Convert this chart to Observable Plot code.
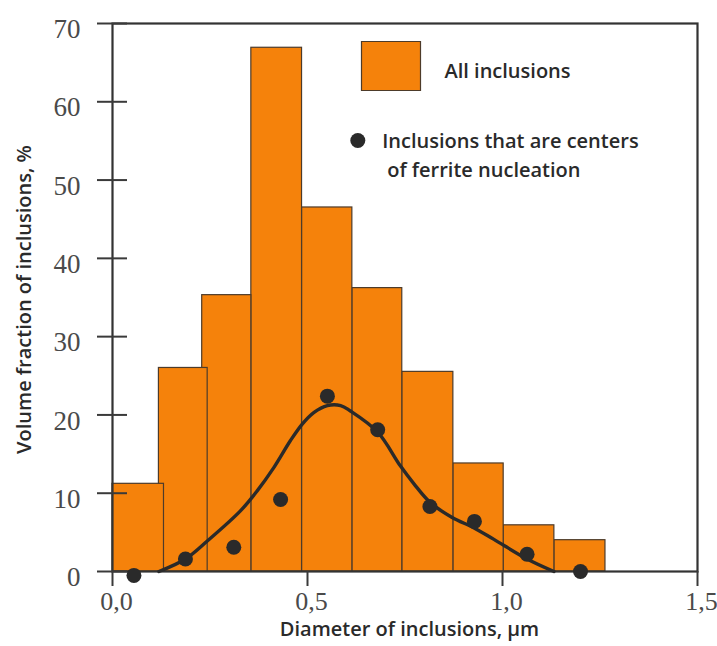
<!DOCTYPE html>
<html>
<head>
<meta charset="utf-8">
<script src="https://cdn.jsdelivr.net/npm/d3@7"></script>
<script src="https://cdn.jsdelivr.net/npm/@observablehq/plot@0.6"></script>
<style>
  body { margin: 0; background: white; }
  #chart { width: 717px; height: 646px; }
</style>
</head>
<body>
<div id="chart"></div>
<script>
// Histogram: all inclusions (bin edges in µm, volume fraction %)
const binStart = [0, 0.119, 0.230, 0.356, 0.486, 0.615, 0.743, 0.874, 1.003, 1.133];
const binEnd   = [0.132, 0.244, 0.356, 0.486, 0.615, 0.743, 0.874, 1.003, 1.133, 1.264];
const allInclusions = [11.2, 26.0, 35.3, 66.9, 46.5, 36.2, 25.5, 13.8, 5.9, 4.0];

// Points: inclusions that are centers of ferrite nucleation
const dotX = [0.055, 0.187, 0.311, 0.431, 0.551, 0.680, 0.814, 0.928, 1.063, 1.200];
const dotY = [-0.5, 1.6, 3.1, 9.2, 22.4, 18.1, 8.3, 6.4, 2.2, 0.0];

// Fitted curve
const curveX = [0.119, 0.187, 0.243, 0.328, 0.371, 0.414, 0.456, 0.486, 0.516, 0.551, 0.585, 0.610, 0.680, 0.738, 0.773, 0.815, 0.871, 0.926, 0.978, 1.063, 1.132];
const curveY = [0, 1.6, 3.9, 7.75, 10.3, 13.3, 16.7, 18.8, 20.3, 21.2, 21.2, 20.5, 17.8, 13.5, 11.2, 8.8, 6.9, 5.6, 4.1, 1.6, 0];

// Axis ticks
const xTicks = [0, 0.5, 1.0, 1.5];
const yTicks = [0, 10, 20, 30, 40, 50, 60, 70];

// Texts
const xTitle = "Diameter of inclusions, µm";
const yTitle = "Volume fraction of inclusions, %";
const legendBars = "All inclusions";
const legendDots1 = "Inclusions that are centers";
const legendDots2 = "of ferrite nucleation";

const orange = "#f5820b";
const dark = "#2a2a2a";
const sans = "'Open Sans', sans-serif";
const serif = "'Liberation Serif', serif";

const bars = binStart.map((s, i) => ({x1: s, x2: binEnd[i], y: allInclusions[i]})).reverse();
const dots = dotX.map((x, i) => ({x, y: dotY[i]}));
const curve = curveX.map((x, i) => ({x, y: curveY[i]}));

const rectSymbol = {
  draw(ctx) {
    ctx.moveTo(-29.5, -24.5);
    ctx.lineTo(29.5, -24.5);
    ctx.lineTo(29.5, 24.5);
    ctx.lineTo(-29.5, 24.5);
    ctx.closePath();
  }
};

const fmt = d => d.toFixed(1).replace(".", ",");
const titleFont = {fontSize: 20, fontWeight: 600, fontFamily: sans, fill: dark};

const chart = Plot.plot({
  width: 717,
  height: 646,
  marginLeft: 112,
  marginRight: 20,
  marginTop: 23,
  marginBottom: 75,
  style: {background: "white", overflow: "visible"},
  x: {domain: [0, 1.5], label: null},
  y: {domain: [0, 70], label: null},
  marks: [
    Plot.rect(bars, {x1: "x1", x2: "x2", y1: 0, y2: "y", fill: orange, stroke: "#4d3b2a", strokeWidth: 1.2}),
    Plot.frame({stroke: "#333", strokeWidth: 2.2}),
    Plot.line(curve, {x: "x", y: "y", curve: "catmull-rom", stroke: dark, strokeWidth: 3.4}),
    Plot.dot(dots, {x: "x", y: "y", r: 7.5, fill: dark}),
    // axes
    Plot.axisY(yTicks, {tickSize: 30, dx: 15, tickFormat: () => "", stroke: "#3a3a3a", strokeWidth: 2, label: null}),
    Plot.axisY(yTicks, {tickSize: 0, tickPadding: 32, dy: 6, fontSize: 27, fontFamily: serif, fill: "#4a4a4a", label: null}),
    Plot.axisX(xTicks, {tickSize: 15, tickFormat: () => "", stroke: "#3a3a3a", strokeWidth: 2, label: null}),
    Plot.axisX(xTicks, {tickSize: 0, tickPadding: 20, dx: 4, tickFormat: fmt, fontSize: 26, fontFamily: serif, fill: "#4a4a4a", label: null}),
    // axis titles
    Plot.text([yTitle], {frameAnchor: "left", dx: -88, dy: 2, rotate: -90, text: d => d, textAnchor: "middle", lineAnchor: "middle", ...titleFont}),
    Plot.text([xTitle], {frameAnchor: "bottom", dx: 4.5, dy: 58, text: d => d, textAnchor: "middle", lineAnchor: "middle", ...titleFont}),
    // legend
    Plot.dot([0], {frameAnchor: "top-left", dx: 278.5, dy: 42.5, symbol: rectSymbol, r: 10, fill: orange, stroke: "#4d3b2a", strokeWidth: 1.2}),
    Plot.text([legendBars], {frameAnchor: "top-left", dx: 332, dy: 48, text: d => d, textAnchor: "start", lineAnchor: "middle", ...titleFont}),
    Plot.dot([0], {frameAnchor: "top-left", dx: 245.3, dy: 117, r: 7.5, fill: dark}),
    Plot.text([legendDots1], {frameAnchor: "top-left", dx: 269.7, dy: 117.7, text: d => d, textAnchor: "start", lineAnchor: "middle", ...titleFont}),
    Plot.text([legendDots2], {frameAnchor: "top-left", dx: 274.7, dy: 147, text: d => d, textAnchor: "start", lineAnchor: "middle", ...titleFont})
  ]
});

document.getElementById("chart").appendChild(chart);
</script>
</body>
</html>
